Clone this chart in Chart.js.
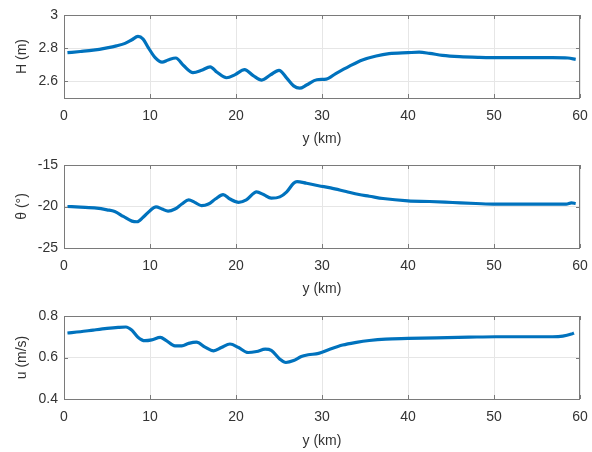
<!DOCTYPE html>
<html>
<head>
<meta charset="utf-8">
<script src="https://cdn.jsdelivr.net/npm/chart.js@4/dist/chart.umd.min.js"></script>
<style>
  body { margin: 0; background: #fff; }
  .box { position: absolute; left: 0; width: 592px; }
</style>
</head>
<body>
<div class="box" style="top:0"><canvas id="cH" width="592" height="150"></canvas></div>
<div class="box" style="top:150px"><canvas id="cTh" width="592" height="150"></canvas></div>
<div class="box" style="top:300px"><canvas id="cU" width="592" height="152"></canvas></div>
<script>
// y (km) positions and values
let hX   = [0.4, 1.9, 3.4, 5.0, 6.1, 7.1, 7.9, 8.6, 9.2, 9.8, 10.6, 11.4, 12.1, 13.0, 13.9, 15.0, 16.0, 17.0, 17.8, 18.9, 19.9, 21.0, 22.0, 23.0, 24.0, 25.0, 25.9, 26.7, 27.4, 28.2, 29.4, 30.5, 31.6, 33.2, 34.7, 36.3, 37.8, 40.0, 41.3, 42.5, 44.0, 46.0, 48.3, 51.0, 53.7, 56.8, 58.6, 59.5];
let hVal = [2.773, 2.780, 2.788, 2.802, 2.814, 2.829, 2.851, 2.871, 2.855, 2.804, 2.743, 2.716, 2.729, 2.741, 2.696, 2.653, 2.667, 2.688, 2.655, 2.622, 2.641, 2.671, 2.635, 2.608, 2.639, 2.667, 2.620, 2.573, 2.559, 2.578, 2.610, 2.614, 2.647, 2.692, 2.729, 2.753, 2.767, 2.773, 2.776, 2.769, 2.757, 2.749, 2.745, 2.743, 2.743, 2.743, 2.741, 2.733];

let thX   = [0.4, 1.9, 3.8, 5.0, 5.9, 6.9, 7.9, 8.5, 9.2, 10.0, 10.7, 11.4, 12.1, 12.9, 13.7, 14.5, 15.2, 16.0, 16.8, 17.6, 18.5, 19.3, 20.3, 21.2, 22.4, 23.2, 24.1, 25.1, 25.9, 26.7, 27.1, 28.2, 29.6, 31.0, 32.8, 34.3, 35.5, 37.1, 40.0, 42.5, 45.2, 47.9, 50.2, 52.9, 56.0, 58.4, 59.0, 59.5];
let thVal = [-20.0, -20.08, -20.2, -20.4, -20.6, -21.2, -21.76, -21.84, -21.3, -20.5, -20.04, -20.3, -20.56, -20.3, -19.7, -19.2, -19.5, -19.9, -19.7, -19.1, -18.56, -19.1, -19.5, -19.2, -18.24, -18.56, -19.0, -18.84, -18.24, -17.2, -17.0, -17.2, -17.5, -17.76, -18.2, -18.56, -18.76, -19.04, -19.32, -19.4, -19.52, -19.64, -19.72, -19.72, -19.72, -19.72, -19.56, -19.64];

let uX   = [0.4, 1.9, 3.4, 5.0, 6.3, 7.2, 7.9, 8.6, 9.4, 10.2, 11.2, 11.9, 12.9, 13.7, 14.5, 15.4, 16.4, 17.4, 18.3, 19.3, 20.3, 21.4, 22.4, 23.4, 24.1, 25.1, 25.8, 26.7, 27.6, 28.4, 29.6, 30.9, 32.4, 34.0, 35.5, 37.4, 40.0, 43.3, 47.1, 50.2, 53.7, 56.8, 58.0, 59.0, 59.3];
let uVal = [0.718, 0.724, 0.732, 0.740, 0.745, 0.747, 0.731, 0.698, 0.681, 0.685, 0.697, 0.681, 0.656, 0.656, 0.668, 0.674, 0.650, 0.632, 0.648, 0.665, 0.648, 0.624, 0.629, 0.640, 0.634, 0.592, 0.576, 0.585, 0.605, 0.613, 0.620, 0.640, 0.660, 0.673, 0.682, 0.689, 0.692, 0.695, 0.698, 0.700, 0.700, 0.700, 0.703, 0.713, 0.718];

let xTicks  = [0, 10, 20, 30, 40, 50, 60];
let hTicks  = [2.6, 2.8, 3];
let thTicks = [-25, -20, -15];
let uTicks  = [0.4, 0.6, 0.8];

const txt = '#333333';
const fnt = { family: 'Liberation Sans, Arial, sans-serif', size: 14 };

// box round the plot with small inward ticks, like matlab
const frame = {
  id: 'frame',
  afterDraw(chart) {
    const { ctx, chartArea: a, scales } = chart;
    ctx.save();
    ctx.strokeStyle = '#7a7a7a';
    ctx.lineWidth = 1;
    ctx.strokeRect(a.left + 0.5, a.top + 0.5, a.right - a.left - 1, a.bottom - a.top);
    ctx.beginPath();
    scales.x.ticks.forEach(t => {
      let px = Math.round(scales.x.getPixelForValue(t.value)) + 0.5;
      ctx.moveTo(px, a.bottom); ctx.lineTo(px, a.bottom - 4);
      ctx.moveTo(px, a.top); ctx.lineTo(px, a.top + 4);
    });
    scales.y.ticks.forEach(t => {
      let py = Math.round(scales.y.getPixelForValue(t.value)) + 0.5;
      ctx.moveTo(a.left, py); ctx.lineTo(a.left + 4, py);
      ctx.moveTo(a.right, py); ctx.lineTo(a.right - 4, py);
    });
    ctx.stroke();
    ctx.restore();
  }
};

function pts(xs, ys) {
  return xs.map((x, i) => ({ x: x, y: ys[i] }));
}

function makePlot(id, xs, ys, yMin, yMax, yTicks, yTitle, topPad, xH) {
  new Chart(document.getElementById(id), {
    type: 'line',
    data: {
      datasets: [{
        data: pts(xs, ys),
        borderColor: '#0072BD',
        borderWidth: 3.2,
        pointRadius: 0,
        cubicInterpolationMode: 'monotone',
        fill: false
      }]
    },
    options: {
      responsive: false,
      animation: false,
      layout: { padding: { top: topPad, right: 12, left: 0, bottom: 0 } },
      plugins: { legend: { display: false }, tooltip: { enabled: false } },
      scales: {
        x: {
          type: 'linear',
          min: 0, max: 60,
          afterBuildTicks: s => { s.ticks = xTicks.map(v => ({ value: v })); },
          afterFit: s => { s.height = xH; s.paddingLeft = 0; s.paddingRight = 0; },
          grid: { color: '#e6e6e6', drawTicks: false },
          border: { display: false },
          ticks: { color: txt, font: fnt, padding: 10, maxRotation: 0 },
          title: { display: true, text: 'y (km)', color: txt, font: fnt, padding: { top: 2, bottom: 2 } }
        },
        y: {
          min: yMin, max: yMax,
          afterBuildTicks: s => { s.ticks = yTicks.map(v => ({ value: v })); },
          afterFit: s => { s.width = 64; s.paddingTop = 0; s.paddingBottom = 0; },
          grid: { color: '#e6e6e6', drawTicks: false },
          border: { display: false },
          ticks: { color: txt, font: fnt, padding: 6, callback: v => String(+v.toFixed(1)) },
          title: { display: true, text: yTitle, color: txt, font: fnt, padding: { top: 14, bottom: 0 } }
        }
      }
    },
    plugins: [frame]
  });
}

makePlot('cH', hX, hVal, 2.5, 3, hTicks, 'H (m)', 15, 52);
makePlot('cTh', thX, thVal, -25, -15, thTicks, 'θ (°)', 15, 52);
makePlot('cU', uX, uVal, 0.4, 0.8, uTicks, 'u (m/s)', 16, 53);
</script>
</body>
</html>
